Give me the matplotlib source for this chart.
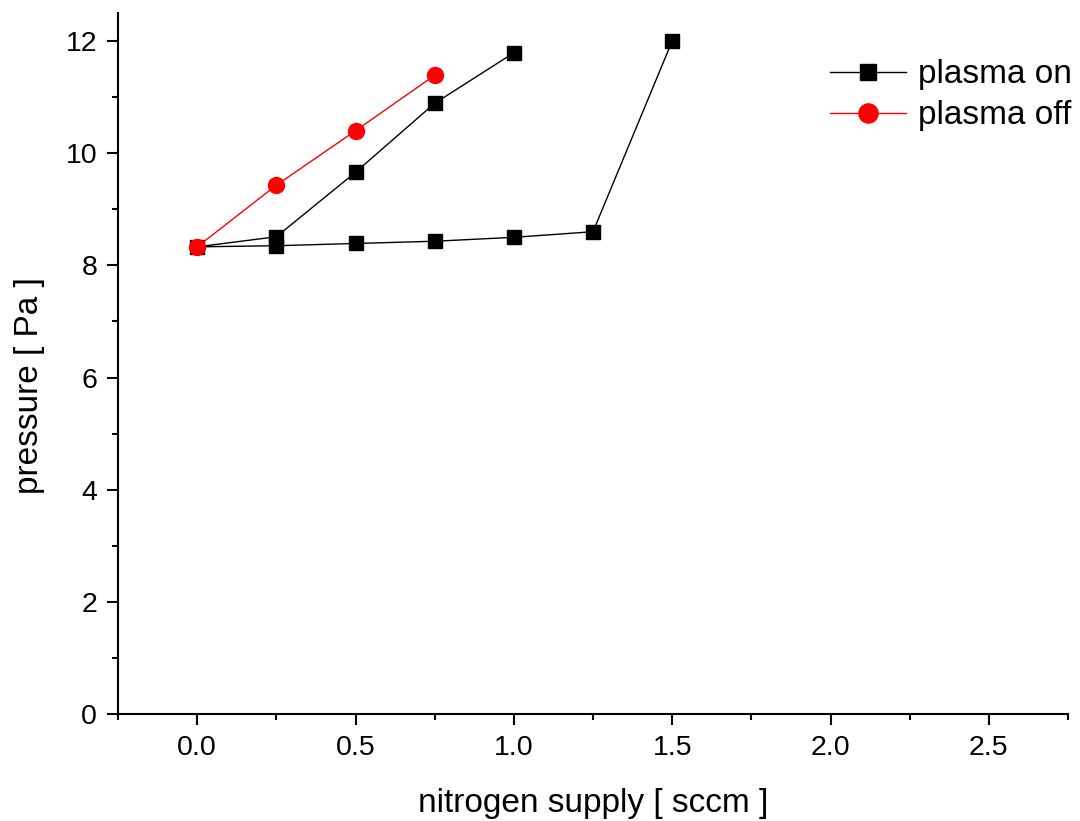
import matplotlib
matplotlib.use("Agg")
import matplotlib.pyplot as plt
from matplotlib.ticker import MultipleLocator

plt.rcParams['font.family'] = ['Liberation Sans', 'DejaVu Sans']

on_x = [1.0, 0.75, 0.5, 0.25, 0.0, 0.25, 0.5, 0.75, 1.0, 1.25, 1.5]
on_y = [11.79, 10.89, 9.66, 8.51, 8.33, 8.35, 8.39, 8.43, 8.50, 8.60, 12.0]
off_x = [0.0, 0.25, 0.5, 0.75]
off_y = [8.33, 9.43, 10.40, 11.39]

fig = plt.figure(figsize=(10.8, 8.21), dpi=100)
ax = fig.add_axes([0.1093, 0.1303, 0.8796, 0.8539])

ax.plot(on_x, on_y, color='black', lw=1, marker='s', ms=10, label='plasma on', zorder=3)
ax.plot(off_x, off_y, color='red', lw=1, marker='o', ms=11.5, label='plasma off', zorder=4)

ax.set_xlim(-0.25, 2.75)
ax.set_ylim(0, 12.5)
ax.xaxis.set_major_locator(MultipleLocator(0.5))
ax.xaxis.set_minor_locator(MultipleLocator(0.25))
ax.yaxis.set_major_locator(MultipleLocator(2))
ax.yaxis.set_minor_locator(MultipleLocator(1))
ax.xaxis.set_major_formatter(plt.FormatStrFormatter('%.1f'))

for s in ['top', 'right']:
    ax.spines[s].set_visible(False)
for s in ['left', 'bottom']:
    ax.spines[s].set_linewidth(1.5)

ax.tick_params(which='major', direction='out', length=8, width=1.5, labelsize=20.5, pad=7)
ax.tick_params(which='minor', direction='out', length=4.5, width=1.5)

ax.set_xlabel('nitrogen supply [ sccm ]', fontsize=24)
ax.xaxis.set_label_coords(0.5, -0.106)
ax.set_ylabel('pressure [ Pa ]', fontsize=24)
ax.yaxis.set_label_coords(-0.077, 0.468)

leg = ax.legend(loc='upper right', frameon=False, fontsize=24, handlelength=2.3,
                handletextpad=0.35, borderaxespad=0.0, labelspacing=0.3,
                markerscale=1.2, bbox_to_anchor=(1.018, 0.953))

fig.savefig('out.png', dpi=100)
